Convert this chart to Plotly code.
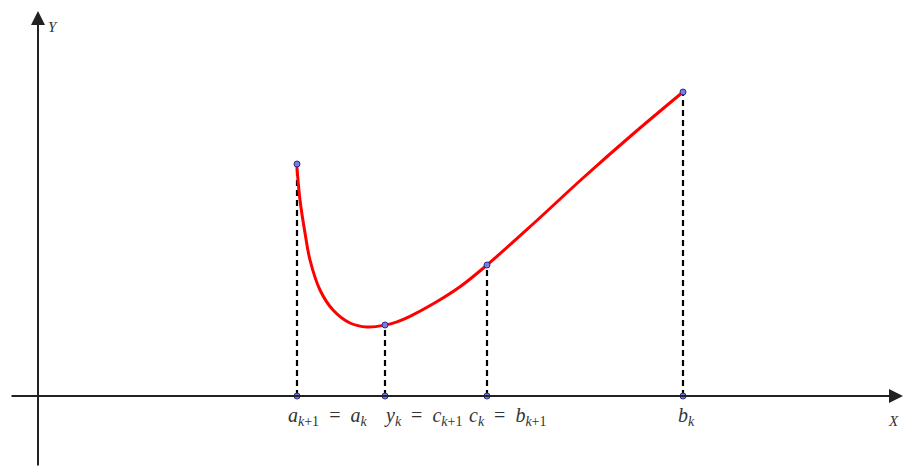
import plotly.graph_objects as go

# Curve samples
curve_x = [2.587, 2.62, 2.67, 2.72, 2.82, 2.95, 3.12, 3.29, 3.47, 3.59, 3.72, 3.97, 4.22, 4.49, 4.95, 5.45, 5.95, 6.45]
curve_y = [2.317, 1.96, 1.63, 1.36, 1.06, 0.86, 0.73, 0.69, 0.709, 0.742, 0.797, 0.932, 1.092, 1.31, 1.72, 2.18, 2.62, 3.04]

# Marked points
point_x = [2.59, 3.47, 4.49, 6.45]
point_y = [2.32, 0.71, 1.31, 3.04]
point_labels = [
    "<i>a</i><sub><i>k</i>+1</sub> = <i>a</i><sub><i>k</i></sub>",
    "<i>y</i><sub><i>k</i></sub> = <i>c</i><sub><i>k</i>+1</sub>",
    "<i>c</i><sub><i>k</i></sub> = <i>b</i><sub><i>k</i>+1</sub>",
    "<i>b</i><sub><i>k</i></sub>",
]
label_x = [2.89, 3.85, 4.70, 6.485]

X_RANGE = [-0.38, 8.70]
Y_RANGE = [-0.71, 3.96]

fig = go.Figure()

# dashed drop lines
dx, dy = [], []
for px, py in zip(point_x, point_y):
    dx += [px, px, None]
    dy += [0, py, None]
fig.add_trace(go.Scatter(x=dx, y=dy, mode="lines",
                         line=dict(color="black", width=2.2, dash="6px,4px"),
                         hoverinfo="skip", showlegend=False))

# red curve
fig.add_trace(go.Scatter(x=curve_x, y=curve_y, mode="lines",
                         line=dict(color="#ff0000", width=3, shape="spline", smoothing=1.0),
                         showlegend=False))

serif = "Liberation Serif, DejaVu Serif, serif"

# axes (drawn as arrows)
fig.add_annotation(x=8.65, y=0, ax=-0.28, ay=0, xref="x", yref="y", axref="x", ayref="y",
                   showarrow=True, arrowhead=2, arrowsize=1.4, arrowwidth=2, arrowcolor="#222", text="")
fig.add_annotation(x=0, y=3.85, ax=0, ay=Y_RANGE[0], xref="x", yref="y", axref="x", ayref="y",
                   showarrow=True, arrowhead=2, arrowsize=1.4, arrowwidth=2, arrowcolor="#222", text="")

# points on curve and on x axis
fig.add_trace(go.Scatter(x=point_x + point_x, y=point_y + [0] * len(point_x), mode="markers",
                         marker=dict(size=6, color="#7b7be0", line=dict(color="#2b2b8f", width=1)),
                         showlegend=False))

for lx, lt in zip(label_x, point_labels):
    fig.add_annotation(x=lx, y=-0.20, text=lt.replace(" = ", "\u2002=\u2002"), showarrow=False,
                       xref="x", yref="y",
                       font=dict(family=serif, size=20, color="#333"))

fig.add_annotation(x=0.15, y=3.69, text="<i>Y</i>", showarrow=False,
                   font=dict(family=serif, size=15, color="#333"))
fig.add_annotation(x=8.55, y=-0.25, text="<i>X</i>", showarrow=False,
                   font=dict(family=serif, size=15, color="#333"))

fig.update_layout(
    width=908, height=467,
    margin=dict(l=0, r=0, t=0, b=0),
    paper_bgcolor="white", plot_bgcolor="white",
    xaxis=dict(range=X_RANGE, visible=False, fixedrange=True),
    yaxis=dict(range=Y_RANGE, visible=False, fixedrange=True),
    showlegend=False,
)

fig.write_html("out.html", config={"displayModeBar": False},
               post_script="document.body.style.margin='0';document.body.style.overflow='hidden';")
